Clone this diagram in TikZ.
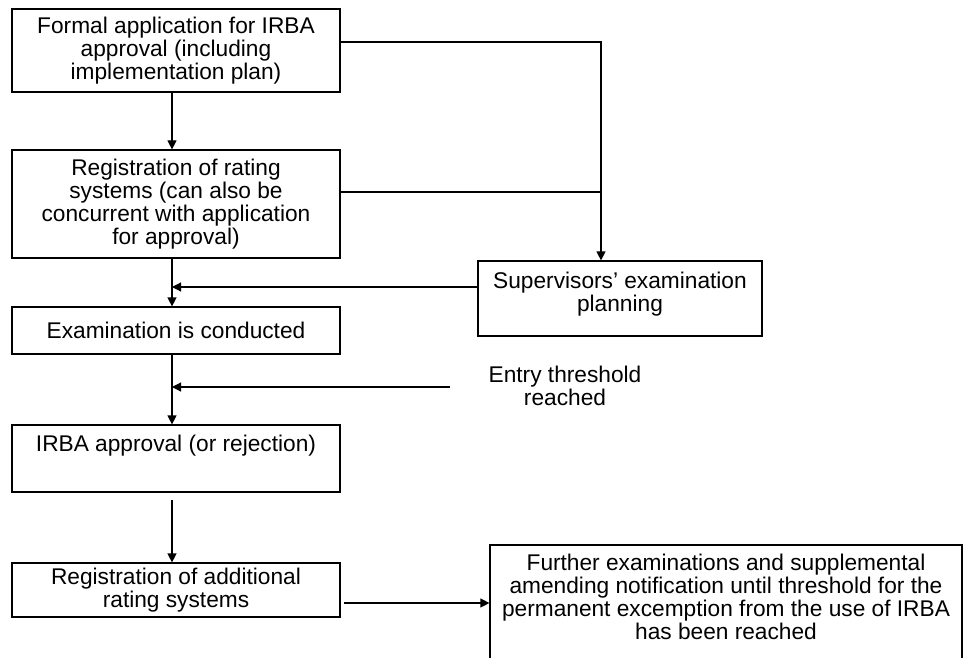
\documentclass[tikz,border=0pt]{standalone}
\usepackage{fontspec}
\setmainfont{Liberation Sans}
\usetikzlibrary{arrows.meta,positioning,calc}

\begin{document}
\begin{tikzpicture}[x=0.5pt, y=-0.5pt,
		txt/.style={align=center, inner sep=0pt, font=\fontsize{11.35}{11.5}\selectfont},
		box/.style={txt, draw, line width=0.6pt},
		flow/.style={line width=0.6pt, -{Triangle[length=4.5pt,width=4.5pt]}}]
			\useasboundingbox (0,0) rectangle (964,658);
			% left column
			\node[box, minimum width=164pt, minimum height=41.5pt] (fapp) at (176,50.5)
				{Formal application for IRBA\\approval (including\\implementation plan)};
			\node[box, minimum width=164pt, minimum height=54pt] (regr) at (176,204)
				{Registration of rating\\systems (can also be\\concurrent with application\\for approval)};
			\node[box, minimum width=164pt, minimum height=23.5pt] (exam) at (176,330.5)
				{Examination is conducted};
			\node[box, minimum width=164pt, minimum height=33.5pt] (appr) at (176,458.5)
				{IRBA approval (or rejection)\\[4pt]\mbox{}};
			\node[box, minimum width=164pt, minimum height=27pt] (addl) at (176,590)
				{Registration of additional\\rating systems};
			% right side
			\node[box, minimum width=142pt, minimum height=37.5pt] (plan) at (620,298.5)
				{Supervisors’ examination\\planning\\[-4.5pt]\mbox{}};
			\node[txt] (thr) at (565,385.5) {Entry threshold\\reached};
			\node[box, minimum width=236pt, minimum height=62.5pt] (furt) at (726,607.5)
				{Further examinations and supplemental\\amending notification until threshold for the\\permanent excemption from the use of IRBA\\has been reached\\[-0.5pt]\mbox{}};
			% helper points
			\coordinate (spine) at ([xshift=-2pt]fapp.south);
			\coordinate (fout) at ([yshift=4.25pt]fapp.east);
			\coordinate (corner) at (601,42);
			\coordinate (rout) at ([yshift=6pt]regr.east);
			\coordinate (pout) at ([yshift=5.75pt]plan.west);
			\coordinate (tout) at ([xshift=-19pt,yshift=-0.75pt]thr.west);
			\coordinate (aout) at ([yshift=-6.5pt]addl.east);
			% connectors
			\draw[flow] (spine) -- (spine |- regr.north);
			\draw[flow] (spine |- regr.south) -- (spine |- exam.north);
			\draw[flow] (spine |- exam.south) -- (spine |- appr.north);
			\draw[flow] ([yshift=-3.5pt]spine |- appr.south) -- (spine |- addl.north);
			\draw[flow] (fout) -- (corner) -- (corner |- plan.north);
			\draw[line width=0.6pt] (rout) -- (rout -| corner);
			\draw[flow] (pout) -- (pout -| spine);
			\draw[flow] (tout) -- (tout -| spine);
			\draw[flow] ([xshift=1.5pt]aout) -- (aout -| furt.west);
		\end{tikzpicture}
\end{document}
